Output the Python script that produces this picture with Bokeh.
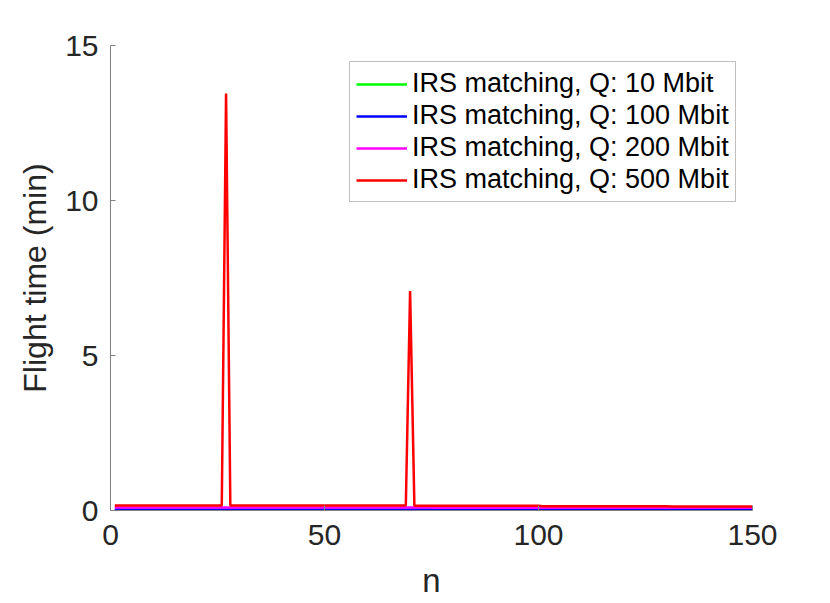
from bokeh.plotting import figure
from bokeh.embed import file_html
from bokeh.resources import INLINE
from bokeh.models import Legend, LegendItem, FixedTicker, Range1d

# ---- data ----
n = list(range(1, 151))
q10 = [0.005] * 150
q100 = [0.03] * 150
q200 = [0.095] * 75 + [0.09] * 75
q500 = [0.16] * 26 + [13.45] + [0.16] * 42 + [7.08] + [0.15] * 30 + [0.14] * 30 + [0.13] * 20

labels = ["IRS matching, Q: 10 Mbit", "IRS matching, Q: 100 Mbit",
          "IRS matching, Q: 200 Mbit", "IRS matching, Q: 500 Mbit"]
colors = ["#00ff00", "#0000ff", "#ff00ff", "#ff0000"]
x_ticks = [0, 50, 100, 150]
y_ticks = [0, 5, 10, 15]

FONT = "Liberation Sans"
TXT = "#262626"
AX = "#808080"

p = figure(frame_width=642, frame_height=465,
           min_border_left=110, min_border_top=45, min_border_right=62, min_border_bottom=77,
           x_range=Range1d(0, 150), y_range=Range1d(0, 15),
           output_backend="svg", toolbar_location=None)
p.outline_line_color = None
p.grid.visible = False
p.background_fill_color = "white"
p.border_fill_color = "white"

items = []
for ys, c, lab in zip([q10, q100, q200, q500], colors, labels):
    r = p.line(n, ys, line_color=c, line_width=2.5)
    items.append(LegendItem(label=lab, renderers=[r]))

for ax in (p.xaxis[0], p.yaxis[0]):
    ax.axis_line_color = AX
    ax.major_tick_line_color = AX
    ax.major_tick_in = 5
    ax.major_tick_out = 0
    ax.minor_tick_line_color = None
    ax.major_label_text_font = FONT
    ax.major_label_text_font_size = "30px"
    ax.major_label_text_color = TXT
    ax.axis_label_text_font = FONT
    ax.axis_label_text_font_style = "normal"
    ax.axis_label_text_color = TXT

p.xaxis.ticker = FixedTicker(ticks=x_ticks)
p.yaxis.ticker = FixedTicker(ticks=y_ticks)
p.xaxis.axis_label = "n"
p.yaxis.axis_label = "Flight time (min)"
p.xaxis.axis_label_text_font_size = "33px"
p.yaxis.axis_label_text_font_size = "32px"
p.xaxis.major_label_standoff = 14
p.yaxis.major_label_standoff = 12
p.xaxis.axis_label_standoff = 14
p.yaxis.axis_label_standoff = 9

legend = Legend(items=items, location=(239, 308))
legend.label_text_font = FONT
legend.label_text_font_size = "27px"
legend.label_text_color = "black"
legend.glyph_width = 51
legend.glyph_height = 20
legend.label_standoff = 5
legend.label_height = 20
legend.spacing = 1
legend.padding = 6
legend.margin = 0
legend.border_line_color = AX
legend.border_line_width = 1
legend.background_fill_color = "white"
legend.background_fill_alpha = 1
p.add_layout(legend)

open("out.html", "w").write(file_html(p, INLINE))
